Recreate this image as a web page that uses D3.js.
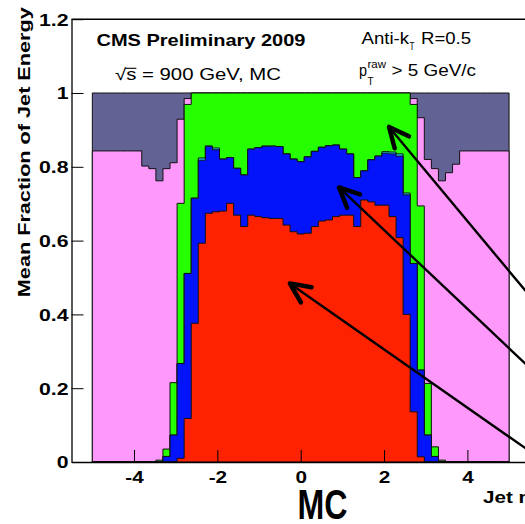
<!DOCTYPE html>
<html>
<head>
<meta charset="utf-8">
<script src="https://cdnjs.cloudflare.com/ajax/libs/d3/7.8.5/d3.min.js"></script>
<style>
  html, body { margin: 0; padding: 0; background: #fff; }
  svg { display: block; }
  text { font-family: "Liberation Sans", Arial, Helvetica, sans-serif; }
</style>
</head>
<body>
<svg id="chart" width="525" height="524"></svg>
<script>
// Mean jet-energy composition per eta bin: 59 equal bins between eta = -5 and 5.
const etaRange = [-5, 5];
const nBins = 59;

// Charged hadrons (red)
const chargedHadron = [
  0, 0, 0, 0, 0, 0, 0, 0, 0, 0, 0, 0,
  0.010, 0.118, 0.376, 0.593, 0.674, 0.678, 0.680, 0.701, 0.669, 0.638,
  0.669, 0.665, 0.662, 0.660, 0.660, 0.642, 0.624, 0.618, 0.620, 0.638,
  0.653, 0.656, 0.665, 0.669, 0.669, 0.638, 0.710, 0.705, 0.696, 0.696,
  0.665, 0.608, 0.400, 0.136, 0.014,
  0, 0, 0, 0, 0, 0, 0, 0, 0, 0, 0, 0
];
// Photons (blue)
const photon = [
  0, 0, 0, 0, 0, 0, 0, 0, 0, 0,
  0.015, 0.073, 0.257, 0.393, 0.339, 0.225, 0.182, 0.168, 0.141, 0.124,
  0.127, 0.140, 0.179, 0.187, 0.194, 0.196, 0.195, 0.193, 0.197, 0.196,
  0.207, 0.204, 0.200, 0.201, 0.194, 0.179, 0.166, 0.133, 0.079, 0.114,
  0.133, 0.141, 0.170, 0.221, 0.324, 0.402, 0.235, 0.073, 0.015,
  0, 0, 0, 0, 0, 0, 0, 0, 0, 0
];
// Electrons (cyan)
const electron = [
  0, 0, 0, 0, 0, 0, 0, 0, 0, 0, 0, 0, 0, 0, 0,
  0.006, 0, 0.005, 0, 0, 0, 0, 0, 0, 0, 0, 0, 0, 0, 0,
  0, 0, 0, 0, 0, 0, 0, 0, 0, 0, 0, 0.004, 0.005, 0.006, 0.005,
  0, 0, 0, 0, 0, 0, 0, 0, 0, 0, 0, 0, 0, 0
];
// Neutral hadrons (green)
const neutralHadron = [
  0, 0, 0, 0, 0, 0, 0, 0, 0,
  0.005, 0.020, 0.142, 0.434, 0.458, 0.285, 0.176, 0.144, 0.149, 0.179,
  0.175, 0.204, 0.222, 0.152, 0.148, 0.144, 0.144, 0.145, 0.165, 0.179,
  0.186, 0.173, 0.158, 0.147, 0.143, 0.141, 0.152, 0.165, 0.229, 0.211,
  0.181, 0.171, 0.159, 0.160, 0.165, 0.271, 0.431, 0.445, 0.140, 0.026,
  0.005,
  0, 0, 0, 0, 0, 0, 0, 0, 0
];
// HF hadronic (pink)
const hfHadron = [
  0.843, 0.843, 0.843, 0.843, 0.843, 0.843, 0.843,
  0.802, 0.795, 0.757, 0.760, 0.596, 0.228, 0.016,
  0, 0, 0, 0, 0, 0, 0, 0, 0, 0, 0, 0, 0, 0, 0, 0,
  0, 0, 0, 0, 0, 0, 0, 0, 0, 0, 0, 0, 0, 0, 0,
  0.016, 0.239, 0.607, 0.754, 0.757, 0.784, 0.807,
  0.843, 0.843, 0.843, 0.843, 0.843, 0.843, 0.843
];
// HF electromagnetic (slate)
const hfEM = [
  0.157, 0.157, 0.157, 0.157, 0.157, 0.157, 0.157,
  0.198, 0.205, 0.238, 0.205, 0.189, 0.071, 0.015,
  0, 0, 0, 0, 0, 0, 0, 0, 0, 0, 0, 0, 0, 0, 0, 0,
  0, 0, 0, 0, 0, 0, 0, 0, 0, 0, 0, 0, 0, 0, 0,
  0.015, 0.067, 0.180, 0.205, 0.238, 0.216, 0.193,
  0.157, 0.157, 0.157, 0.157, 0.157, 0.157, 0.157
];

const componentKeys = ["chargedHadron", "photon", "electron", "neutralHadron", "hfHadron", "hfEM"];
const componentValues = { chargedHadron, photon, electron, neutralHadron, hfHadron, hfEM };
const componentColors = {
  chargedHadron: "#ff2200",
  photon: "#0414fa",
  electron: "#22ddff",
  neutralHadron: "#26ff00",
  hfHadron: "#fe98fb",
  hfEM: "#626294"
};

const yTicks = [0, 0.2, 0.4, 0.6, 0.8, 1, 1.2];
const xTicks = [-4, -2, 0, 2, 4];

// Annotation arrows (eta, fraction): tips on the green, blue and red areas
const arrowTipEta = [2.12, 0.92, -0.26];
const arrowTipFrac = [0.908, 0.744, 0.484];
const arrowTailEta = [5.6, 5.6, 5.6];
const arrowTailFrac = [0.436, 0.244, 0.021];

const svg = d3.select("#chart");
const x = d3.scaleLinear().domain([-5.5, 5.5]).range([71.5, 529.9]);
const y = d3.scaleLinear().domain([0, 1.2]).range([462, 19.2]);

function stretch(sel, k) {
  sel.each(function () {
    const L = this.getComputedTextLength();
    this.setAttribute("textLength", (L * k).toFixed(2));
    this.setAttribute("lengthAdjust", "spacingAndGlyphs");
  });
}

// ---- stacked histograms ----
const binW = (etaRange[1] - etaRange[0]) / nBins;
const edges = d3.range(nBins + 1).map(i => etaRange[0] + i * binW);
const rows = d3.range(nBins).map(i => {
  const r = {};
  componentKeys.forEach(k => { r[k] = componentValues[k][i]; });
  return r;
});
const stacked = d3.stack().keys(componentKeys)(rows);

const area = d3.area()
  .x(d => x(d.e))
  .y0(y(0))
  .y1(d => y(d.v));

const histG = svg.append("g");
stacked.slice().reverse().forEach(series => {
  const pts = [];
  series.forEach((d, i) => {
    pts.push({ e: edges[i], v: d[1] });
    pts.push({ e: edges[i + 1], v: d[1] });
  });
  histG.append("path")
    .attr("d", area(pts))
    .attr("fill", componentColors[series.key])
    .attr("stroke", "#111")
    .attr("stroke-width", 1)
    .attr("stroke-linejoin", "miter");
});

// ---- axes ----
const yMinor = d3.range(0, 1.2001, 0.05).filter(v => !yTicks.some(t => Math.abs(t - v) < 1e-6));
const xMinor = d3.range(-5.5, 5.5001, 0.5).filter(v => !xTicks.some(t => Math.abs(t - v) < 1e-6));

const yAxisG = svg.append("g").attr("transform", `translate(${x(-5.5)},0)`);
yAxisG.call(d3.axisLeft(y).tickValues(yMinor).tickSize(-7).tickSizeOuter(0).tickFormat(""));
yAxisG.call(d3.axisLeft(y).tickValues(yTicks).tickSize(-12).tickSizeOuter(0).tickPadding(3).tickFormat(d3.format("~g")));
yAxisG.attr("font-family", null).attr("font-size", null);
yAxisG.selectAll("path.domain").attr("stroke", "#222").attr("stroke-width", 1.5);
yAxisG.selectAll(".tick line").attr("stroke", "#000");
const yLabels = yAxisG.selectAll(".tick text")
  .attr("font-size", 17).attr("font-weight", "bold").attr("fill", "#000").attr("dy", "0.35em");
stretch(yLabels, 1.25);

const xAxisG = svg.append("g").attr("transform", `translate(0,${y(0)})`);
xAxisG.call(d3.axisBottom(x).tickValues(xMinor).tickSize(-7).tickSizeOuter(0).tickFormat(""));
xAxisG.call(d3.axisBottom(x).tickValues(xTicks).tickSize(-12).tickSizeOuter(0).tickPadding(9).tickFormat(d3.format("~g")));
xAxisG.attr("font-family", null).attr("font-size", null);
xAxisG.selectAll("path.domain").attr("stroke", "#000").attr("stroke-width", 1.5);
xAxisG.selectAll(".tick line").attr("stroke", "#000");
const xLabels = xAxisG.selectAll(".tick text")
  .attr("font-size", 17).attr("font-weight", "bold").attr("fill", "#000")
  .text(d => d < 0 ? "-" + Math.abs(d) : String(d));
stretch(xLabels, 1.22);

// top frame line
svg.append("line")
  .attr("x1", x(-5.5)).attr("x2", x(5.5))
  .attr("y1", y(1.2)).attr("y2", y(1.2))
  .attr("stroke", "#000").attr("stroke-width", 1.5);

// axis titles
svg.append("text")
  .attr("transform", `translate(30,${y(1.2) - 12}) rotate(-90)`)
  .attr("text-anchor", "end")
  .attr("font-size", 17).attr("font-weight", "bold")
  .attr("textLength", 290).attr("lengthAdjust", "spacingAndGlyphs")
  .text("Mean Fraction of Jet Energy");

svg.append("text")
  .attr("x", 483).attr("y", 503)
  .attr("font-size", 16.5).attr("font-weight", "bold")
  .text("Jet η")
  .call(stretch, 1.25);

// ---- labels inside the frame ----
svg.append("text")
  .attr("x", 96.5).attr("y", 45.5)
  .attr("font-size", 17).attr("font-weight", "bold")
  .attr("textLength", 209).attr("lengthAdjust", "spacingAndGlyphs")
  .text("CMS Preliminary 2009");

const rootS = svg.append("text")
  .attr("x", 115).attr("y", 80)
  .attr("font-size", 16.5)
  .attr("textLength", 166).attr("lengthAdjust", "spacingAndGlyphs")
  .text("√s = 900 GeV, MC");
{
  const n = rootS.node();
  const r0 = n.getExtentOfChar(0), r1 = n.getExtentOfChar(1);
  svg.append("line")
    .attr("x1", r0.x + r0.width - 1).attr("x2", r1.x + r1.width)
    .attr("y1", 68.3).attr("y2", 68.3)
    .attr("stroke", "#000").attr("stroke-width", 1.1);
}

svg.append("text").attr("x", 361.5).attr("y", 43.5).attr("font-size", 16)
  .attr("textLength", 47.5).attr("lengthAdjust", "spacingAndGlyphs").text("Anti-k");
svg.append("text").attr("x", 409.5).attr("y", 50).attr("font-size", 10.5)
  .attr("textLength", 5).attr("lengthAdjust", "spacingAndGlyphs").text("T");
svg.append("text").attr("x", 421).attr("y", 43.5).attr("font-size", 16)
  .attr("textLength", 50).attr("lengthAdjust", "spacingAndGlyphs").text("R=0.5");

svg.append("text").attr("x", 359).attr("y", 76).attr("font-size", 16)
  .attr("textLength", 8).attr("lengthAdjust", "spacingAndGlyphs").text("p");
svg.append("text").attr("x", 367.5).attr("y", 67.5).attr("font-size", 10.5)
  .attr("textLength", 18.5).attr("lengthAdjust", "spacingAndGlyphs").text("raw");
svg.append("text").attr("x", 367.5).attr("y", 85).attr("font-size", 10.5)
  .attr("textLength", 6).attr("lengthAdjust", "spacingAndGlyphs").text("T");
svg.append("text").attr("x", 391.5).attr("y", 76).attr("font-size", 16)
  .attr("textLength", 84.5).attr("lengthAdjust", "spacingAndGlyphs").text("> 5 GeV/c");

// big sample tag under the axis
svg.append("text")
  .attr("x", 297.5).attr("y", 518.5)
  .attr("font-family", "'DejaVu Sans Condensed', 'Liberation Sans', sans-serif")
  .attr("font-size", 42.5).attr("font-weight", "bold")
  .attr("textLength", 50).attr("lengthAdjust", "spacingAndGlyphs")
  .text("MC");

// ---- arrows ----
const arrowG = svg.append("g").attr("stroke", "#000").attr("fill", "none")
  .attr("stroke-linecap", "round").attr("stroke-linejoin", "round");
arrowTipEta.forEach((te, i) => {
  const tx = x(te), ty = y(arrowTipFrac[i]);
  const ex = x(arrowTailEta[i]), ey = y(arrowTailFrac[i]);
  arrowG.append("line").attr("x1", tx).attr("y1", ty).attr("x2", ex).attr("y2", ey)
    .attr("stroke-width", 2.4);
  const ang = Math.atan2(ey - ty, ex - tx);
  const L = 22, half = 25 * Math.PI / 180;
  const a1 = [tx + L * Math.cos(ang - half), ty + L * Math.sin(ang - half)];
  const a2 = [tx + L * Math.cos(ang + half), ty + L * Math.sin(ang + half)];
  arrowG.append("path")
    .attr("d", d3.line()([a1, [tx, ty], a2]))
    .attr("stroke-width", 4.5);
});
</script>
</body>
</html>
